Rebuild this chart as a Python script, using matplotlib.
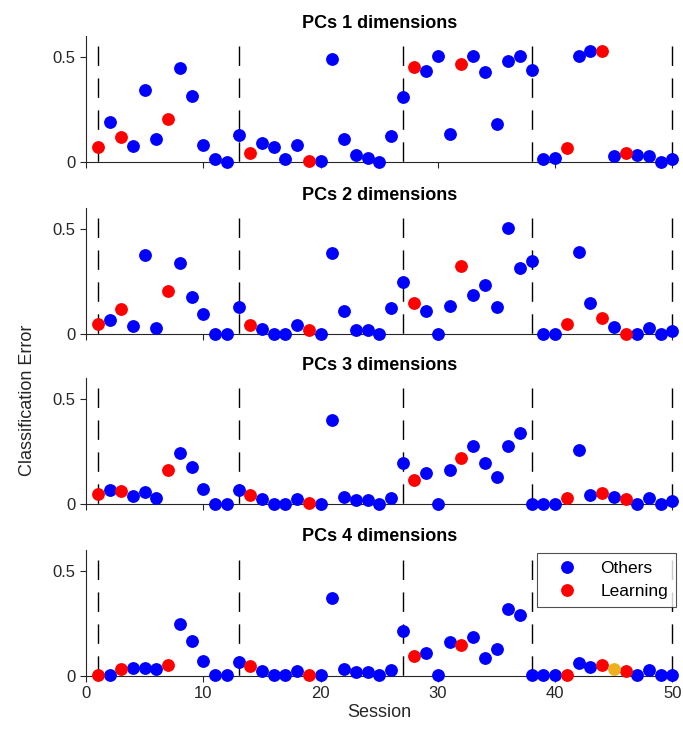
import matplotlib
matplotlib.use("Agg")
import matplotlib.pyplot as plt
import numpy as np

plt.rcParams["font.family"] = ["Liberation Sans", "DejaVu Sans"]

# classification error per session (sessions 1..50), one list per PC count
sessions = np.arange(1, 51)
pc1_err = [0.073, 0.193, 0.121, 0.076, 0.344, 0.110, 0.207, 0.449, 0.317, 0.084,
           0.018, 0.003, 0.129, 0.046, 0.091, 0.073, 0.016, 0.081, 0.005, 0.005,
           0.490, 0.110, 0.033, 0.021, 0.003, 0.123, 0.310, 0.452, 0.433, 0.506,
           0.135, 0.470, 0.506, 0.428, 0.182, 0.484, 0.506, 0.441, 0.018, 0.022,
           0.068, 0.505, 0.530, 0.530, 0.032, 0.045, 0.037, 0.030, 0.003, 0.018]
pc2_err = [0.050, 0.067, 0.122, 0.039, 0.379, 0.031, 0.208, 0.339, 0.179, 0.096,
           0.003, 0.003, 0.130, 0.045, 0.025, 0.003, 0.003, 0.042, 0.022, 0.003,
           0.387, 0.111, 0.019, 0.019, 0.003, 0.124, 0.248, 0.147, 0.113, 0.003,
           0.136, 0.326, 0.187, 0.235, 0.130, 0.506, 0.315, 0.348, 0.003, 0.003,
           0.047, 0.390, 0.149, 0.078, 0.033, 0.003, 0.003, 0.030, 0.003, 0.017]
pc3_err = [0.049, 0.068, 0.063, 0.040, 0.057, 0.032, 0.162, 0.246, 0.179, 0.075,
           0.003, 0.003, 0.070, 0.046, 0.027, 0.003, 0.003, 0.027, 0.005, 0.003,
           0.402, 0.033, 0.022, 0.022, 0.003, 0.029, 0.198, 0.114, 0.148, 0.003,
           0.163, 0.219, 0.278, 0.198, 0.130, 0.276, 0.338, 0.003, 0.003, 0.003,
           0.029, 0.256, 0.043, 0.054, 0.033, 0.025, 0.003, 0.030, 0.003, 0.017]
pc4_err = [0.003, 0.002, 0.033, 0.039, 0.039, 0.030, 0.049, 0.244, 0.167, 0.072,
           0.003, 0.003, 0.064, 0.044, 0.024, 0.003, 0.003, 0.024, 0.003, 0.003,
           0.371, 0.030, 0.017, 0.020, 0.003, 0.027, 0.214, 0.093, 0.110, 0.002,
           0.162, 0.148, 0.186, 0.082, 0.129, 0.316, 0.290, 0.003, 0.003, 0.003,
           0.003, 0.061, 0.042, 0.052, 0.031, 0.024, 0.003, 0.028, 0.003, 0.003]
panels = [pc1_err, pc2_err, pc3_err, pc4_err]
titles = ["PCs 1 dimensions", "PCs 2 dimensions", "PCs 3 dimensions", "PCs 4 dimensions"]

learning_sessions = [1, 3, 7, 14, 19, 28, 32, 41, 44, 46]
highlight_session = 45  # yellow dot, last panel only
boundaries = [1, 13, 27, 38, 50]

BLUE = "#0000ff"
RED = "#ff0000"
YELLOW = "#edb120"

fig = plt.figure(figsize=(6.83, 7.34), dpi=100)
left, width, height = 0.126, 0.8586, 0.1717
bottoms = [0.7789, 0.5446, 0.3130, 0.0794]

is_learn = np.isin(sessions, learning_sessions)
axes = []
for i, (err, title, b) in enumerate(zip(panels, titles, bottoms)):
    ax = fig.add_axes([left, b, width, height])
    err = np.asarray(err)
    last = i == len(panels) - 1
    others = ~is_learn
    if last:
        others &= sessions != highlight_session

    # dashed block boundaries, drawn top-down so the pattern starts with a dash
    for xb in boundaries:
        ax.plot([xb, xb], [0.552, 0], color="black", lw=1.0,
                dashes=(14, 9), zorder=1, clip_on=False)

    ax.plot(sessions[others], err[others], "o", color=BLUE, ms=8.2,
            mec=BLUE, label="Others", clip_on=False, zorder=3)
    ax.plot(sessions[is_learn], err[is_learn], "o", color=RED, ms=8.2,
            mec=RED, label="Learning", clip_on=False, zorder=3)
    if last:
        m = sessions == highlight_session
        ax.plot(sessions[m], err[m], "o", color=YELLOW, ms=8.2, mec=YELLOW,
                clip_on=False, zorder=3)

    ax.set_xlim(0, 50)
    ax.set_ylim(0, 0.6)
    ax.set_xticks([0, 10, 20, 30, 40, 50])
    ax.set_yticks([0, 0.5])
    ax.set_yticklabels(["0", "0.5"])
    ax.spines["top"].set_visible(False)
    ax.spines["right"].set_visible(False)
    for s in ("left", "bottom"):
        ax.spines[s].set_color("#262626")
        ax.spines[s].set_linewidth(0.8)
    ax.tick_params(direction="out", length=4, width=0.8, colors="#262626",
                   labelsize=12, labelcolor="#262626")
    ax.set_title(title, fontsize=13, fontweight="bold", pad=6)
    if not last:
        ax.set_xticklabels([])
    axes.append(ax)

axes[-1].set_xlabel("Session", fontsize=13, color="#262626", labelpad=2)
fig.text(0.04, 0.455, "Classification Error", rotation=90, fontsize=13,
         color="#262626", ha="center", va="center")

leg = axes[-1].legend(loc="upper right", bbox_to_anchor=(1.006, 0.972),
                      fontsize=12.5, frameon=True, fancybox=False,
                      handletextpad=0.6, borderpad=0.45, labelspacing=0.45,
                      handlelength=2.6, borderaxespad=0)
leg.get_frame().set_edgecolor("#262626")
leg.get_frame().set_linewidth(0.8)

fig.savefig("out.png", dpi=100)
